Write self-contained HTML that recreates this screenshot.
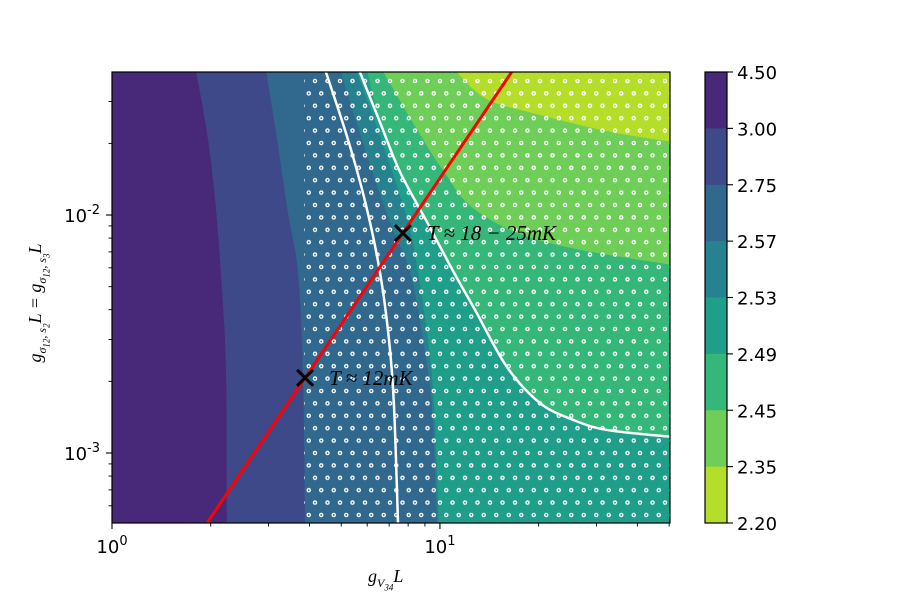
<!DOCTYPE html>
<html><head><meta charset="utf-8"><style>
html,body{margin:0;padding:0;background:#fff;width:900px;height:600px;overflow:hidden}
svg{display:block}
.tk{font-family:"DejaVu Sans","Liberation Sans",sans-serif;font-size:18px;fill:#000}
.mt{font-family:"Liberation Serif","DejaVu Serif",serif;font-style:italic;fill:#000}
</style></head><body>
<svg id="chart" width="900" height="600" viewBox="0 0 900 600"></svg>
<script>
// ---- data ----
const xDomain = [1, 50.3];
const yDomain = [0.000508, 0.0399];
const levels = ["4.50","3.00","2.75","2.57","2.53","2.49","2.45","2.35","2.20"];
const bandColors = ["#482878","#3e4989","#31688e","#26828e","#1f9e89","#35b779","#6ece58","#b5de2b"];
// contour boundaries (x = g_V34 L, y = g_sigma L); each region fills to the right edge
const bnd1X = [1.80,1.95,2.07,2.18,2.23,2.24]; const bnd1Y = [0.0399,0.0220,0.0110,0.00419,0.00200,0.000508];
const bnd2X = [2.95,3.20,3.45,3.69,3.82,3.88]; const bnd2Y = [0.0399,0.0200,0.0100,0.00577,0.00219,0.000508];
const bnd3X = [4.96,5.99,7.04,8.11,8.87,9.45,9.79]; const bnd3Y = [0.0399,0.0179,0.00935,0.00577,0.00301,0.00159,0.000508];
const bnd4X = [5.55,6.34,7.14,7.99,8.57,9.19,9.59,9.93]; const bnd4Y = [0.0399,0.0246,0.0152,0.00935,0.00577,0.00301,0.00159,0.000508];
const bnd5X = [5.99,6.56,7.55,9.13,11.0,12.8,16.0,20.2,25.4,32.3,50.3]; const bnd5Y = [0.0399,0.0246,0.0152,0.00935,0.00577,0.00399,0.00230,0.00162,0.00138,0.00125,0.00117];
const bnd6X = [6.66,8.87,10.3,12.3,16.9,26.0,50.3]; const bnd6Y = [0.0399,0.0208,0.0152,0.0110,0.00849,0.00720,0.00617];
const bnd7X = [11.1,13.9,20.3,33.4,50.3]; const bnd7Y = [0.0399,0.0307,0.0263,0.0223,0.0203];
// white contour lines
const white1X = [4.49,5.24,5.95,6.56,6.99,7.24,7.45]; const white1Y = [0.0399,0.0208,0.0110,0.00577,0.00301,0.00159,0.000508];
const white2X = [5.70,6.56,7.55,9.13,11.0,12.8,16.0,20.2,25.4,32.3,50.3]; const white2Y = [0.0399,0.0246,0.0152,0.00935,0.00577,0.00399,0.00230,0.00162,0.00138,0.00125,0.00117];
// red line and markers
const redX = [1.5, 20]; const markerX = [3.88, 7.71]; const markerY = [0.00207, 0.0084];
const markerLabels = ["T ≈ 12mK", "T ≈ 18 − 25mK"];
const hatchMinX = 3.85;
const xTicks = [1, 10]; const xTickLabels = ["0","1"];
const yTicks = [0.01, 0.001]; const yTickLabels = ["-2","-3"];

// ---- layout ----
const L=112,R=670,T=72,B=523;
const NS="http://www.w3.org/2000/svg";
const svg=document.getElementById('chart');
const sx=v=>L+(Math.log10(v)-Math.log10(xDomain[0]))/(Math.log10(xDomain[1])-Math.log10(xDomain[0]))*(R-L);
const sy=v=>B-(Math.log10(v)-Math.log10(yDomain[0]))/(Math.log10(yDomain[1])-Math.log10(yDomain[0]))*(B-T);
function mk(tag,attrs,parent){const e=document.createElementNS(NS,tag);for(const k in attrs)e.setAttribute(k,attrs[k]);(parent||svg).appendChild(e);return e;}
function smooth(P){ // Catmull-Rom to cubic
  let d='M'+P[0][0]+','+P[0][1];
  for(let i=0;i<P.length-1;i++){
    const p0=P[Math.max(0,i-1)],p1=P[i],p2=P[i+1],p3=P[Math.min(P.length-1,i+2)];
    const c1=[p1[0]+(p2[0]-p0[0])/6,p1[1]+(p2[1]-p0[1])/6];
    const c2=[p2[0]-(p3[0]-p1[0])/6,p2[1]-(p3[1]-p1[1])/6];
    d+=`C${c1[0]},${c1[1]} ${c2[0]},${c2[1]} ${p2[0]},${p2[1]}`;
  }
  return d;
}

const defs=mk('defs',{});
const cp=mk('clipPath',{id:'plotclip'},defs);mk('rect',{x:L,y:T,width:R-L,height:B-T},cp);
const pat=mk('pattern',{id:'dots',patternUnits:'userSpaceOnUse',width:12.5,height:24.8,x:L,y:T+6},defs);
mk('circle',{cx:3,cy:3,r:1.6,fill:'none',stroke:'#fff','stroke-width':1.3},pat);
mk('circle',{cx:9.25,cy:15.4,r:1.6,fill:'none',stroke:'#fff','stroke-width':1.3},pat);

const plot=mk('g',{'clip-path':'url(#plotclip)'});


const bg=mk('rect',{x:L,y:T,width:R-L,height:B-T,fill:bandColors[0]},plot);


const regions=[[bnd1X,bnd1Y],[bnd2X,bnd2Y],[bnd3X,bnd3Y],[bnd4X,bnd4Y],[bnd5X,bnd5Y],[bnd6X,bnd6Y],[bnd7X,bnd7Y]];
regions.forEach((r,i)=>{
  const [xs,ys]=r;
  const P=xs.map((x,j)=>[sx(x),sy(ys[j])]);
  P[0][1]=T-2;
  const last=P[P.length-1];
  if(last[1]>=B-1) last[1]=B+2; else last[0]=R+2;
  let d=smooth(P);
  if(last[1]>=B) d+=`L${R+5},${B+5}`;
  d+=`L${R+5},${T-5}L${P[0][0]},${T-5}Z`;
  const p=mk('path',{d:d,fill:bandColors[i+1]},plot);
  
  
});
const h=mk('rect',{x:sx(hatchMinX),y:T,width:R-sx(hatchMinX),height:B-T,fill:'url(#dots)'},plot);


[[white1X,white1Y],[white2X,white2Y]].forEach((w,i)=>{
  const P=w[0].map((x,j)=>[sx(x),sy(w[1][j])]);
  const p=mk('path',{d:smooth(P),fill:'none',stroke:'#fff','stroke-width':2.5},plot);
  
  
});
// red power-law line through markers
const slope=(Math.log10(markerY[1])-Math.log10(markerY[0]))/(Math.log10(markerX[1])-Math.log10(markerX[0]));
const ry=x=>Math.pow(10,Math.log10(markerY[0])+slope*(Math.log10(x)-Math.log10(markerX[0])));
const rl=mk('line',{x1:sx(redX[0]),y1:sy(ry(redX[0])),x2:sx(redX[1]),y2:sy(ry(redX[1])),stroke:'#ff0000','stroke-width':3},plot);


markerX.forEach((x,i)=>{
  const cx=sx(x),cy=sy(markerY[i]),s=8;
  const g=mk('g',{},plot);
  
  
  mk('path',{d:`M${cx-s},${cy-s}L${cx+s},${cy+s}M${cx-s},${cy+s}L${cx+s},${cy-s}`,stroke:'#000','stroke-width':3},g);
  const t=mk('text',{x:cx+24,y:cy+7,class:'mt','font-size':21},plot);
  t.textContent=markerLabels[i];
  
  
});
const frame=mk('rect',{x:L,y:T,width:R-L,height:B-T,fill:'none',stroke:'#000','stroke-width':1.2});



// ticks
const ax=mk('g',{});


for(let d=0;d<=1;d++)for(let m=2;m<=9;m++){const v=m*Math.pow(10,d);if(v<=xDomain[1]){const x=sx(v);mk('line',{x1:x,y1:B,x2:x,y2:B+3.5,stroke:'#000','stroke-width':0.9},ax);}}
for(let d=-4;d<=-2;d++)for(let m=2;m<=9;m++){const v=m*Math.pow(10,d);if(v>=yDomain[0]&&v<=yDomain[1]){const y=sy(v);mk('line',{x1:L,y1:y,x2:L-3.5,y2:y,stroke:'#000','stroke-width':0.9},ax);}}
xTicks.forEach((v,i)=>{const x=sx(v);mk('line',{x1:x,y1:B,x2:x,y2:B+6,stroke:'#000','stroke-width':1.1},ax);
  const t=mk('text',{x:x,y:B+30,'text-anchor':'middle',class:'tk'},ax);t.innerHTML='10<tspan dy="-8" font-size="13">'+xTickLabels[i]+'</tspan>';
  
  });
yTicks.forEach((v,i)=>{const y=sy(v);mk('line',{x1:L,y1:y,x2:L-6,y2:y,stroke:'#000','stroke-width':1.1},ax);
  const t=mk('text',{x:L-12,y:y+7,'text-anchor':'end',class:'tk'},ax);t.innerHTML='10<tspan dy="-8" font-size="13">'+yTickLabels[i]+'</tspan>';
  
  });

// colorbar
const CL=705,CR=727;
const cb=mk('g',{});


const bh=(B-T)/bandColors.length;
bandColors.forEach((c,i)=>{const r=mk('rect',{x:CL,y:T+i*bh,width:CR-CL,height:bh+0.5,fill:c},cb);
  
  });
mk('rect',{x:CL,y:T,width:CR-CL,height:B-T,fill:'none',stroke:'#000','stroke-width':1.2},cb);
levels.forEach((lv,i)=>{const y=T+i*bh;mk('line',{x1:CR,y1:y,x2:CR+6,y2:y,stroke:'#000','stroke-width':1.1},cb);
  const t=mk('text',{x:CR+10,y:y+7,class:'tk'},cb);t.textContent=lv;
  
  });
</script>
<div style="position:absolute;left:368px;top:566px;font-family:'Liberation Serif',serif;font-style:italic;font-size:18px">g<sub style="font-size:12px">V<sub style="font-size:9px">34</sub></sub>L</div>
<div style="position:absolute;left:-52px;top:290px;width:180px;text-align:center;transform:rotate(-90deg);font-family:'Liberation Serif',serif;font-style:italic;font-size:18px;white-space:nowrap">g<sub style="font-size:12px">σ<sub style="font-size:9px">12</sub>, s<sub style="font-size:9px">2</sub></sub>L = g<sub style="font-size:12px">σ<sub style="font-size:9px">12</sub>, s<sub style="font-size:9px">3</sub></sub>L</div>
</body></html>
